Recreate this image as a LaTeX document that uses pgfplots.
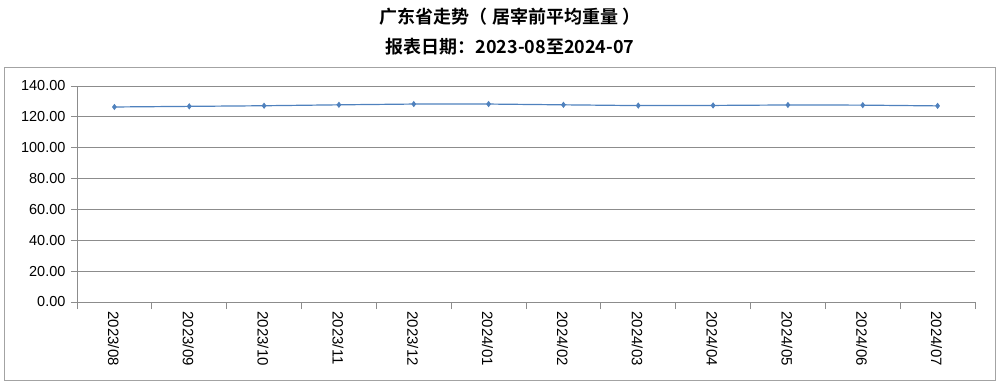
\documentclass[border=0pt]{standalone}
\usepackage{fontspec}
\setmainfont{Liberation Sans}
\newfontfamily\cjk{Noto Sans CJK SC}[BoldFont={Noto Sans CJK SC Bold}]
\usepackage{pgfplots}
\pgfplotsset{compat=1.18}

\definecolor{linebl}{HTML}{4F81BD}
\definecolor{gridgr}{HTML}{8C8C8C}

\begin{document}
\begin{tikzpicture}[x=1pt,y=1pt]
  % overall canvas and outer frame
  \useasboundingbox (-77,-83) rectangle (923,302);
  \draw[gridgr!80, line width=1pt] (-72,-78) rectangle (918,234);
  % titles
  \node[font=\cjk\bfseries\fontsize{18}{20}\selectfont] at (433,285) {广东省走势（ 居宰前平均重量 ）};
  \node[font=\cjk\bfseries\fontsize{18}{20}\selectfont] at (433,255) {报表日期：2023-08至2024-07};
  \begin{axis}[
    at={(0,0)}, anchor=south west,
    scale only axis,
    width=898pt, height=216pt,
    xmin=-0.5, xmax=11.5,
    ymin=0, ymax=140,
    axis x line*=bottom,
    axis y line*=left,
    axis line style={gridgr, line width=0.8pt},
    ytick={0,20,...,140},
    ymajorgrids,
    major grid style={gridgr, line width=0.8pt},
    tick align=outside,
    major tick length=6pt,
    minor tick length=7pt,
    y tick style={gridgr, line width=0.8pt},
    xtick={0,...,11},
    xticklabels={2023/08,2023/09,2023/10,2023/11,2023/12,2024/01,2024/02,2024/03,2024/04,2024/05,2024/06,2024/07},
    major x tick style={draw=none},
    minor xtick={-0.5,0.5,...,11.5},
    minor x tick style={gridgr, line width=0.8pt},
    xticklabel style={rotate=-90, anchor=west, font=\fontsize{15}{17}\selectfont, yshift=-1pt},
    yticklabel style={font=\fontsize{14.5}{17}\selectfont, xshift=-2pt},
    /pgf/number format/.cd, fixed, fixed zerofill, precision=2, assume math mode=true,
  ]
    \addplot[color=linebl, line width=1.2pt, mark=diamond*, mark size=2.2pt,
             mark options={fill=linebl, draw=linebl}]
      coordinates {
        (0,126.4) (1,126.8) (2,127.2) (3,127.8) (4,128.3) (5,128.3)
        (6,127.8) (7,127.3) (8,127.4) (9,127.7) (10,127.6) (11,127.1)
      };
  \end{axis}
\end{tikzpicture}
\end{document}
